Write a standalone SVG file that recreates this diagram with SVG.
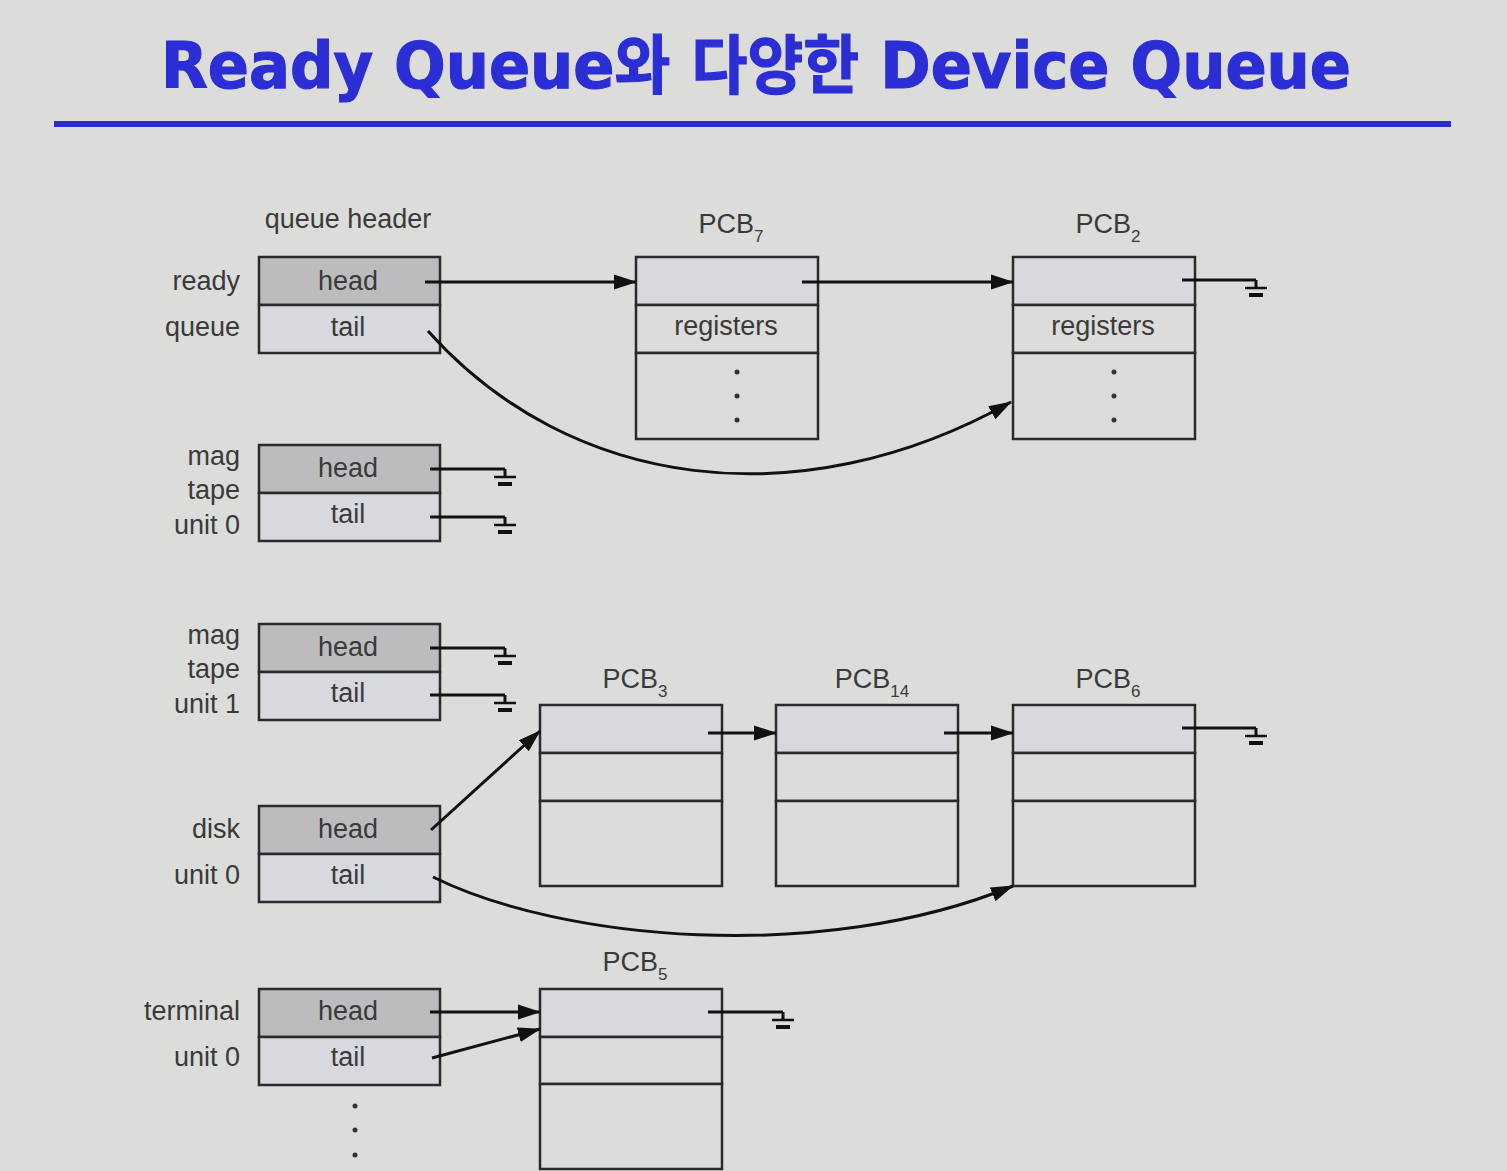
<svg xmlns="http://www.w3.org/2000/svg" width="1507" height="1171" viewBox="0 0 1507 1171">
  <style>
    .title { font-family: "DejaVu Sans", "Noto Sans CJK KR", sans-serif; font-weight: bold; font-size: 64px; fill: #2b2ed4; stroke: #2b2ed4; stroke-width: 1.2; }
    .lbl { font-family: "Liberation Sans", Arial, sans-serif; font-size: 27px; fill: #3a3a3a; }
    .mid { text-anchor: middle; }
    .end { text-anchor: end; }
    .sub { font-size: 17px; }
    .box { stroke: #2a2a2a; stroke-width: 2.5; }
    .hdr { fill: #bcbcbe; }
    .lite { fill: #d8d8df; }
    .plain { fill: #dcdcda; }
    .wire { stroke: #111; stroke-width: 3; fill: none; }
    .gnd { stroke: #111; fill: none; }
    .dot { fill: #333; }
  </style>
  <defs>
    <marker id="arrow" markerUnits="userSpaceOnUse" markerWidth="24" markerHeight="18" refX="22" refY="9" orient="auto">
      <path d="M0,1.5 L23,9 L0,16.5 Z" fill="#111"/>
    </marker>
    <!-- ground (null pointer) symbol, origin at the wire's end -->
    <g id="ground">
      <path class="gnd" stroke-width="3" d="M0,0 V8"/>
      <path class="gnd" stroke-width="2.5" d="M-11,8 H11"/>
      <path class="gnd" stroke-width="4" d="M-7,15 H7"/>
    </g>
  </defs>

  <rect width="1507" height="1171" fill="#dcdcda"/>

  <!-- heading -->
  <text class="title mid" x="756" y="88" textLength="1190" lengthAdjust="spacingAndGlyphs">Ready Queue와 다양한 Device Queue</text>
  <rect x="54" y="121" width="1397" height="6" fill="#2a2ccc"/>

  <text class="lbl mid" x="348" y="228">queue header</text>

  <!-- queue headers -->
  <g id="ready-queue">
    <text class="lbl end" x="240" y="290">ready</text>
    <text class="lbl end" x="240" y="336">queue</text>
    <rect class="box hdr" x="259" y="257" width="181" height="48"/>
    <rect class="box lite" x="259" y="305" width="181" height="48"/>
    <text class="lbl mid" x="348" y="290">head</text>
    <text class="lbl mid" x="348" y="336">tail</text>
  </g>

  <g id="mag-tape-0">
    <text class="lbl end" x="240" y="465">mag</text>
    <text class="lbl end" x="240" y="499">tape</text>
    <text class="lbl end" x="240" y="534">unit 0</text>
    <rect class="box hdr" x="259" y="445" width="181" height="48"/>
    <rect class="box lite" x="259" y="493" width="181" height="48"/>
    <text class="lbl mid" x="348" y="477">head</text>
    <text class="lbl mid" x="348" y="523">tail</text>
  </g>

  <g id="mag-tape-1">
    <text class="lbl end" x="240" y="644">mag</text>
    <text class="lbl end" x="240" y="678">tape</text>
    <text class="lbl end" x="240" y="713">unit 1</text>
    <rect class="box hdr" x="259" y="624" width="181" height="48"/>
    <rect class="box lite" x="259" y="672" width="181" height="48"/>
    <text class="lbl mid" x="348" y="656">head</text>
    <text class="lbl mid" x="348" y="702">tail</text>
  </g>

  <g id="disk-0">
    <text class="lbl end" x="240" y="838">disk</text>
    <text class="lbl end" x="240" y="884">unit 0</text>
    <rect class="box hdr" x="259" y="806" width="181" height="48"/>
    <rect class="box lite" x="259" y="854" width="181" height="48"/>
    <text class="lbl mid" x="348" y="838">head</text>
    <text class="lbl mid" x="348" y="884">tail</text>
  </g>

  <g id="terminal-0">
    <text class="lbl end" x="240" y="1020">terminal</text>
    <text class="lbl end" x="240" y="1066">unit 0</text>
    <rect class="box hdr" x="259" y="989" width="181" height="48"/>
    <rect class="box lite" x="259" y="1037" width="181" height="48"/>
    <text class="lbl mid" x="348" y="1020">head</text>
    <text class="lbl mid" x="348" y="1066">tail</text>
    <circle class="dot" cx="355" cy="1106" r="2.5"/>
    <circle class="dot" cx="355" cy="1130" r="2.5"/>
    <circle class="dot" cx="355" cy="1155" r="2.5"/>
  </g>

  <!-- process control blocks -->
  <g id="pcb7">
    <text class="lbl mid" x="731" y="233">PCB<tspan class="sub" dy="9">7</tspan></text>
    <rect class="box lite" x="636" y="257" width="182" height="48"/>
    <rect class="box plain" x="636" y="305" width="182" height="48"/>
    <rect class="box plain" x="636" y="353" width="182" height="86"/>
    <text class="lbl mid" x="726" y="335">registers</text>
    <circle class="dot" cx="737" cy="372" r="2.5"/>
    <circle class="dot" cx="737" cy="396" r="2.5"/>
    <circle class="dot" cx="737" cy="420" r="2.5"/>
  </g>

  <g id="pcb2">
    <text class="lbl mid" x="1108" y="233">PCB<tspan class="sub" dy="9">2</tspan></text>
    <rect class="box lite" x="1013" y="257" width="182" height="48"/>
    <rect class="box plain" x="1013" y="305" width="182" height="48"/>
    <rect class="box plain" x="1013" y="353" width="182" height="86"/>
    <text class="lbl mid" x="1103" y="335">registers</text>
    <circle class="dot" cx="1114" cy="372" r="2.5"/>
    <circle class="dot" cx="1114" cy="396" r="2.5"/>
    <circle class="dot" cx="1114" cy="420" r="2.5"/>
  </g>

  <g id="pcb3">
    <text class="lbl mid" x="635" y="688">PCB<tspan class="sub" dy="9">3</tspan></text>
    <rect class="box lite" x="540" y="705" width="182" height="48"/>
    <rect class="box plain" x="540" y="753" width="182" height="48"/>
    <rect class="box plain" x="540" y="801" width="182" height="85"/>
  </g>

  <g id="pcb14">
    <text class="lbl mid" x="872" y="688">PCB<tspan class="sub" dy="9">14</tspan></text>
    <rect class="box lite" x="776" y="705" width="182" height="48"/>
    <rect class="box plain" x="776" y="753" width="182" height="48"/>
    <rect class="box plain" x="776" y="801" width="182" height="85"/>
  </g>

  <g id="pcb6">
    <text class="lbl mid" x="1108" y="688">PCB<tspan class="sub" dy="9">6</tspan></text>
    <rect class="box lite" x="1013" y="705" width="182" height="48"/>
    <rect class="box plain" x="1013" y="753" width="182" height="48"/>
    <rect class="box plain" x="1013" y="801" width="182" height="85"/>
  </g>

  <g id="pcb5">
    <text class="lbl mid" x="635" y="971">PCB<tspan class="sub" dy="9">5</tspan></text>
    <rect class="box lite" x="540" y="989" width="182" height="48"/>
    <rect class="box plain" x="540" y="1037" width="182" height="47"/>
    <rect class="box plain" x="540" y="1084" width="182" height="85"/>
  </g>

  <!-- links between headers and PCBs -->
  <g id="connectors">
    <path class="wire" marker-end="url(#arrow)" d="M425,282 H636"/>
    <path class="wire" marker-end="url(#arrow)" d="M802,282 H1013"/>
    <path class="wire" marker-end="url(#arrow)" d="M428,331 C570,490 800,520 1011,402"/>

    <path class="wire" marker-end="url(#arrow)" d="M431,830 L540,731"/>
    <path class="wire" marker-end="url(#arrow)" d="M433,877 C560,940 820,965 1013,886"/>
    <path class="wire" marker-end="url(#arrow)" d="M708,733 H776"/>
    <path class="wire" marker-end="url(#arrow)" d="M944,733 H1013"/>

    <path class="wire" marker-end="url(#arrow)" d="M430,1012 H540"/>
    <path class="wire" marker-end="url(#arrow)" d="M432,1058 L540,1029"/>

    <!-- null pointers -->
    <path class="wire" d="M1182,280 H1256"/>
    <use href="#ground" x="1256" y="280"/>
    <path class="wire" d="M1182,728 H1256"/>
    <use href="#ground" x="1256" y="728"/>
    <path class="wire" d="M708,1012 H783"/>
    <use href="#ground" x="783" y="1012"/>
    <path class="wire" d="M430,469 H505"/>
    <use href="#ground" x="505" y="469"/>
    <path class="wire" d="M430,517 H505"/>
    <use href="#ground" x="505" y="517"/>
    <path class="wire" d="M430,648 H505"/>
    <use href="#ground" x="505" y="648"/>
    <path class="wire" d="M430,695 H505"/>
    <use href="#ground" x="505" y="695"/>
  </g>
</svg>
